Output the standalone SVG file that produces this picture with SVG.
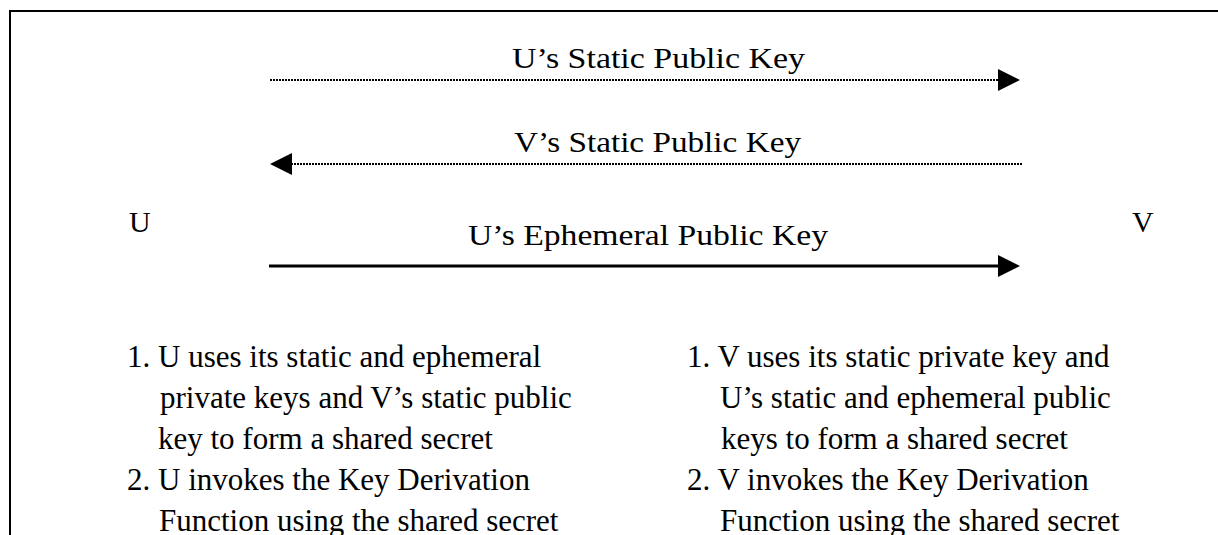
<svg xmlns="http://www.w3.org/2000/svg" width="1218" height="535" viewBox="0 0 1218 535">
  <style>
    .t { font-family: "Liberation Serif", "Times New Roman", serif; font-size: 31px; fill: #000; }
    .lbl { font-family: "Liberation Serif", "Times New Roman", serif; font-size: 30px; fill: #000; }
    .dot { stroke: #000; stroke-width: 2; stroke-dasharray: 2 1; fill: none; }
    .solid { stroke: #000; stroke-width: 3; fill: none; }
  </style>
  <defs>
    <marker id="head" viewBox="0 0 22 22" refX="0" refY="11" markerWidth="22" markerHeight="22" markerUnits="userSpaceOnUse" orient="auto">
      <path d="M0,0 L22,11 L0,22 Z" fill="#000"/>
    </marker>
  </defs>

  <!-- outer frame -->
  <rect x="10" y="11" width="1230" height="600" fill="#fff" stroke="#000" stroke-width="2"/>

  <!-- parties -->
  <g id="party-u"><text class="lbl" x="129" y="232">U</text></g>
  <g id="party-v"><text class="lbl" x="1132" y="232">V</text></g>

  <!-- messages -->
  <g id="connectors">
    <line class="dot" x1="270" y1="80" x2="998" y2="80" marker-end="url(#head)"/>
    <line class="dot" x1="1022" y1="164" x2="292" y2="164" marker-end="url(#head)"/>
    <line class="solid" x1="269" y1="266" x2="998" y2="266" marker-end="url(#head)"/>
  </g>
  <g id="label-u-static"><text class="lbl" x="512" y="68" textLength="293" lengthAdjust="spacingAndGlyphs">U’s Static Public Key</text></g>
  <g id="label-v-static"><text class="lbl" x="514" y="152" textLength="287" lengthAdjust="spacingAndGlyphs">V’s Static Public Key</text></g>
  <g id="label-u-ephemeral"><text class="lbl" x="468" y="245" textLength="360" lengthAdjust="spacingAndGlyphs">U’s Ephemeral Public Key</text></g>

  <!-- U's steps -->
  <g id="steps-u">
    <text class="t" x="127" y="367">1. U uses its static and ephemeral</text>
    <text class="t" x="160" y="408">private keys and V’s static public</text>
    <text class="t" x="158" y="449">key to form a shared secret</text>
    <text class="t" x="127" y="490">2. U invokes the Key Derivation</text>
    <text class="t" x="159" y="531">Function using the shared secret</text>
  </g>

  <!-- V's steps -->
  <g id="steps-v">
    <text class="t" x="687" y="367">1. V uses its static private key and</text>
    <text class="t" x="720" y="408">U’s static and ephemeral public</text>
    <text class="t" x="721" y="449">keys to form a shared secret</text>
    <text class="t" x="687" y="490">2. V invokes the Key Derivation</text>
    <text class="t" x="720" y="531">Function using the shared secret</text>
  </g>
</svg>
